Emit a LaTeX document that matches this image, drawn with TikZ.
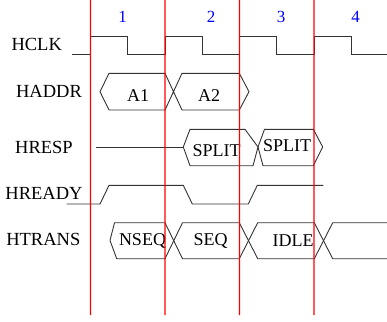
\documentclass[tikz,border=0pt]{standalone}
\usepackage{fontspec}
\setmainfont{Liberation Serif}
\begin{document}
\begin{tikzpicture}[x=1pt,y=-1pt,
  wave/.style={line width=0.9pt, black!80, line join=miter},
  clkline/.style={fill=red, draw=none},
  lbl/.style={font=\fontsize{18.5}{18.5}\selectfont, inner sep=0pt},
  num/.style={font=\fontsize{17}{17}\selectfont, text=blue, inner sep=0pt},
  cell/.style={font=\fontsize{18}{18}\selectfont, inner sep=0pt}]
\useasboundingbox (0,0) rectangle (387,321);

% signal labels
\node[lbl] (hclk) at (36.7,44) {HCLK};
\node[lbl] (haddr) at (49,91) {HADDR};
\node[lbl] (hresp) at (44,147) {HRESP};
\node[lbl] (hready) at (44,193) {HREADY};
\node[lbl] (htrans) at (43.3,239) {HTRANS};

% cycle numbers
\node[num] (n1) at (122.7,16.5) {1};
\node[num] (n2) at (211,16.5) {2};
\node[num] (n3) at (281,16.5) {3};
\node[num] (n4) at (355.7,16.5) {4};

% HCLK
\draw[wave] (72,54) -- (90.5,54) -- (90.5,36) -- (127.7,36) -- (127.7,54) -- (165,54) -- (165,36)
  -- (202.3,36) -- (202.3,54) -- (239.5,54) -- (239.5,36) -- (276.7,36) -- (276.7,54)
  -- (314,54) -- (314,36) -- (351.3,36) -- (351.3,54) -- (387,54);

% HADDR
\draw[wave] (100,91.7) -- (109,73.3) -- (165,73.3) -- (182,110) -- (239.3,110) -- (249,91.7)
  -- (239.3,73.3) -- (182,73.3) -- (165,110) -- (109,110) -- cycle;
\node[cell] (a1) at (138,95.5) {A1};
\node[cell] (a2) at (209,95.5) {A2};

% HRESP
\draw[wave] (95.7,147) -- (183.3,147);
\draw[wave] (183.3,147) -- (190,129.3) -- (245,129.3) -- (258,147) -- (253,165.7) -- (190,165.7) -- cycle;
\draw[wave] (258,147) -- (264.5,129.3) -- (313.3,129.3) -- (322.7,147) -- (313.3,165.7) -- (263,165.7) -- cycle;
\node[cell] (s1) at (216.7,150.3) {SPLIT};
\node[cell] (s2) at (287,146) {SPLIT};

% HREADY
\draw[wave] (66.7,204) -- (100,204) -- (109,185.3) -- (183.3,185.3) -- (192.3,204) -- (248.3,204)
  -- (257.3,185.3) -- (323.3,185.3);

% HTRANS
\draw[wave] (110,240.5) -- (114.5,222.7) -- (165,222.7) -- (182.5,258.7) -- (239.3,258.7)
  -- (257.7,222.7) -- (314.3,222.7) -- (332.7,258.7) -- (387,258.7);
\draw[wave] (110,240.5) -- (116.7,258.7) -- (165,258.7) -- (182.5,222.7) -- (239.3,222.7)
  -- (257.7,258.7) -- (314.3,258.7) -- (332.7,222.7) -- (387,222.7);
\node[cell] (t1) at (142.5,240.8) {NSEQ};
\node[cell] (t2) at (210.5,240.5) {SEQ};
\node[cell] (t3) at (293,240.5) {IDLE};

% clock edge markers
\coordinate (ma) at (89.9,0);   \coordinate (mb) at (91.1,315);
\coordinate (mc) at (164.4,0);  \coordinate (md) at (165.6,315);
\coordinate (me) at (238.9,0);  \coordinate (mf) at (240.1,315);
\coordinate (mg) at (313.4,0);  \coordinate (mh) at (314.6,315);
\path[clkline] (ma) rectangle (mb) (mc) rectangle (md) (me) rectangle (mf) (mg) rectangle (mh);
\end{tikzpicture}
\end{document}
